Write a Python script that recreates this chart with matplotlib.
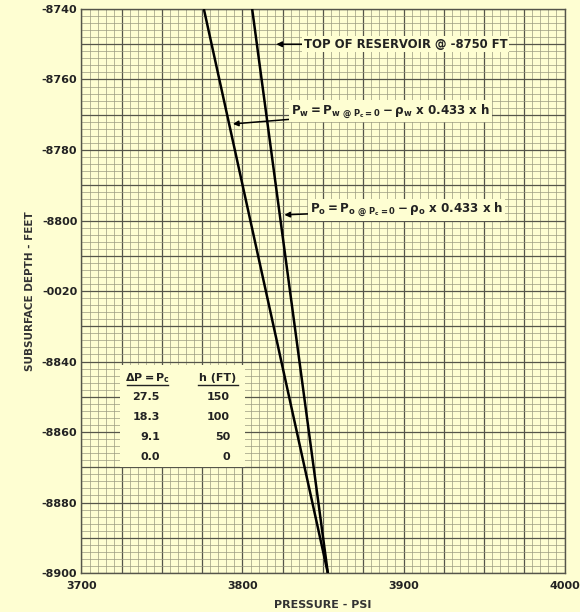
import matplotlib.pyplot as plt
import numpy as np
from matplotlib.ticker import MultipleLocator

plt.rcParams['font.family'] = ['DejaVu Sans']
plt.rcParams['font.weight'] = 'bold'
plt.rcParams['mathtext.fontset'] = 'dejavusans'

# Pressure profiles from the free water level up to the top of the plot
depth = [-8740, -8900]
p_water = [3776, 3853]
p_oil = [3806, 3853]

# Capillary pressure vs height above free water level
table_dp = ['27.5', '18.3', '9.1', '0.0']
table_h = ['150', '100', '50', '0']

x_ticks = [3700, 3800, 3900, 4000]
y_ticks = [-8740, -8760, -8780, -8800, -8820, -8840, -8860, -8880, -8900]
y_tick_labels = ['-8740', '-8760', '-8780', '-8800', '-0020', '-8840', '-8860', '-8880', '-8900']

bg = '#fefed2'
major_c = '#55554a'
minor_c = '#9a9a80'
txt_c = '#222222'

fig = plt.figure(figsize=(5.8, 6.12), dpi=100, facecolor=bg)
ax = fig.add_axes([0.1405, 0.0637, 0.8328, 0.9216])
ax.set_facecolor(bg)

# graph paper grid: 25 psi / 10 ft major, 5 psi / 2 ft minor
ax.xaxis.set_major_locator(MultipleLocator(25))
ax.yaxis.set_major_locator(MultipleLocator(10))
ax.xaxis.set_minor_locator(MultipleLocator(5))
ax.yaxis.set_minor_locator(MultipleLocator(2))
ax.set_xlim(3700, 4000)
ax.set_ylim(-8900, -8740)
ax.grid(which='major', color=major_c, lw=0.9)
ax.grid(which='minor', color=minor_c, lw=0.5)
ax.set_axisbelow(True)

xt = ax.get_xticks()
ax.set_xticks(xt)
ax.set_xticklabels([str(int(v)) if int(v) in x_ticks else '' for v in xt])
yt = ax.get_yticks()
ax.set_yticks(yt)
lab = dict(zip(y_ticks, y_tick_labels))
ax.set_yticklabels([lab.get(int(round(v)), '') for v in yt])
ax.set_xlim(3700, 4000)
ax.set_ylim(-8900, -8740)

ax.tick_params(which='both', length=0, labelsize=8, colors=txt_c)
ax.tick_params(axis='x', pad=6)
ax.tick_params(axis='y', pad=3)
for s in ax.spines.values():
    s.set_color(major_c)
    s.set_linewidth(1.0)

ax.plot(p_water, depth, color='black', lw=1.8, solid_capstyle='butt', zorder=3)
ax.plot(p_oil, depth, color='black', lw=1.8, solid_capstyle='butt', zorder=3)

ax.set_xlabel('PRESSURE - PSI', fontsize=8, fontweight='bold', color='#333333', labelpad=6)
ax.set_ylabel('SUBSURFACE DEPTH - FEET', fontsize=7.5, fontweight='bold', color='#333333', labelpad=5)

box = dict(boxstyle='square,pad=0.15', fc=bg, ec='none')
arrow = dict(arrowstyle='-|>', color='black', lw=1.1, mutation_scale=8, shrinkA=0, shrinkB=0)

ax.annotate('TOP OF RESERVOIR @ -8750 FT', xy=(3821, -8750), xytext=(3838, -8750),
            fontsize=8.4, fontweight='bold', va='center', ha='left', bbox=box,
            arrowprops=arrow, zorder=5, color=txt_c)
ax.annotate(r'$\mathbf{P_w = P_{w\ @\ P_c=0} - \rho_w\ x\ 0.433\ x\ h}$',
            xy=(3794, -8772.6), xytext=(3830, -8769),
            fontsize=8.6, va='center', ha='left', bbox=box,
            arrowprops=arrow, zorder=5, color=txt_c)
ax.annotate(r'$\mathbf{P_o = P_{o\ @\ P_c=0} - \rho_o\ x\ 0.433\ x\ h}$',
            xy=(3826, -8798.4), xytext=(3842, -8797),
            fontsize=8.6, va='center', ha='left', bbox=box,
            arrowprops=arrow, zorder=5, color=txt_c)

# Pc table
ax.add_patch(plt.Rectangle((0.0797, 0.188), 0.2588, 0.181, transform=ax.transAxes,
                           fc=bg, ec='none', zorder=4))
ax.text(0.1377, 0.3457, r'$\mathbf{\Delta P = P_c}$', transform=ax.transAxes,
        ha='center', va='center', fontsize=8, zorder=5, color=txt_c)
ax.text(0.2826, 0.3457, 'h (FT)', transform=ax.transAxes,
        ha='center', va='center', fontsize=8, fontweight='bold', zorder=5, color=txt_c)
ax.plot([0.0942, 0.1791], [0.3333, 0.3333], transform=ax.transAxes, color=txt_c, lw=1, zorder=5)
ax.plot([0.2412, 0.324], [0.3333, 0.3333], transform=ax.transAxes, color=txt_c, lw=1, zorder=5)
row_y = [0.312, 0.2766, 0.241, 0.2057]
for yy, dp, h in zip(row_y, table_dp, table_h):
    ax.text(0.1625, yy, dp, transform=ax.transAxes, ha='right', va='center',
            fontsize=8, fontweight='bold', color=txt_c, zorder=5)
    ax.text(0.3075, yy, h, transform=ax.transAxes, ha='right', va='center',
            fontsize=8, fontweight='bold', color=txt_c, zorder=5)

fig.savefig('out.png', dpi=100, facecolor=bg)
